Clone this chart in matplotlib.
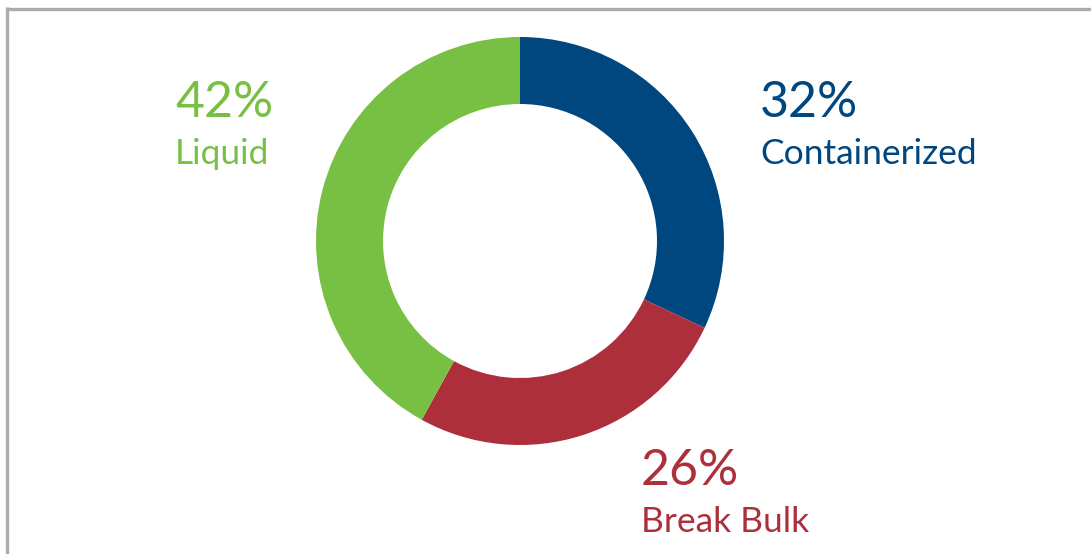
import matplotlib
matplotlib.use("Agg")
import matplotlib.pyplot as plt
from matplotlib.lines import Line2D

categories = ["Containerized", "Break Bulk", "Liquid"]
values = [32, 26, 42]
colors = ["#00467f", "#ad2f3b", "#78c043"]
pct_labels = ["32%", "26%", "42%"]

W, H = 1091, 554
fig = plt.figure(figsize=(W / 100, H / 100), dpi=100)
ax = fig.add_axes([0, 0, 1, 1])

cx, cy = 520, H - 241
ax.pie(values, colors=colors, startangle=90, counterclock=False,
       center=(cx, cy), radius=204,
       wedgeprops=dict(width=67, linewidth=0, antialiased=True))
ax.set_xlim(0, W)
ax.set_ylim(0, H)
ax.set_aspect("auto")
ax.axis("off")

# border (left and top)
border = "#acacaf"
fig.add_artist(Line2D([7 / W, 7 / W], [0, 1 - 7 / H], color=border, lw=2.4,
                      transform=fig.transFigure, solid_capstyle="butt"))
fig.add_artist(Line2D([5.8 / W, 1], [1 - 8.5 / H, 1 - 8.5 / H], color=border, lw=2.4,
                      transform=fig.transFigure, solid_capstyle="butt"))

font = "Lato"
# (x_left, pct_baseline, label_baseline) in pixel coords from top
positions = {
    "Containerized": (760, 117, 164),
    "Break Bulk": (641, 485, 532),
    "Liquid": (175, 117, 164),
}
for cat, pct, col in zip(categories, pct_labels, colors):
    x, yb1, yb2 = positions[cat]
    fig.text(x / W, 1 - yb1 / H, pct, color=col, fontsize=36, family=font,
             ha="left", va="baseline")
    fig.text(x / W, 1 - yb2 / H, cat, color=col, fontsize=25.5, family=font,
             ha="left", va="baseline")

fig.savefig("out.png", dpi=100)
